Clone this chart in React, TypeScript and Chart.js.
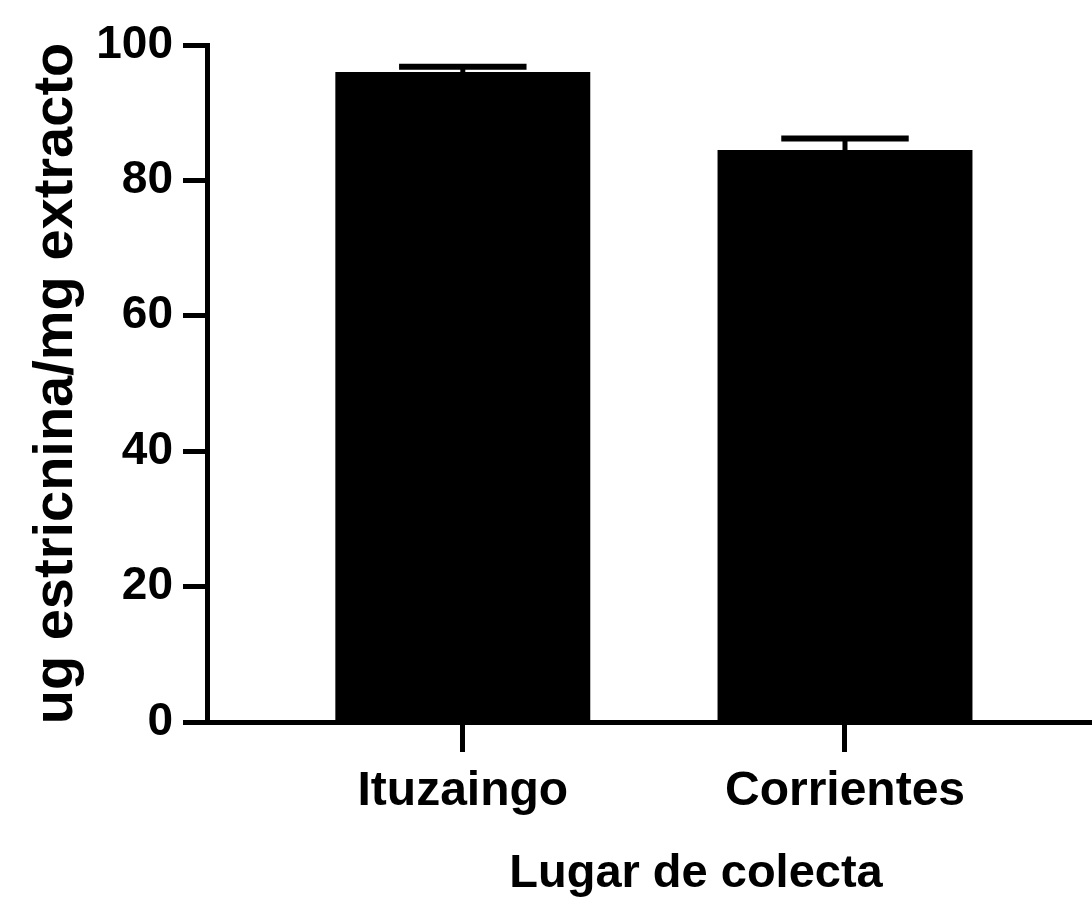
import React, { useEffect, useRef } from "react";
import { Chart, registerables } from "chart.js";

Chart.register(...registerables);

const categories = ["Ituzaingo", "Corrientes"];
const means = [96.0, 84.5];
const errors = [0.8, 1.7];
const yTickValues = [0, 20, 40, 60, 80, 100];
const xTitle = "Lugar de colecta";
const yTitle = "ug estricnina/mg extracto";

const FONT = "'Liberation Sans', Arial, Helvetica, sans-serif";

const errorBars = {
  id: "errorBars",
  afterDatasetsDraw(chart: any) {
    const { ctx } = chart;
    const y = chart.scales.y;
    const meta = chart.getDatasetMeta(0);
    ctx.save();
    ctx.strokeStyle = "#000";
    ctx.lineCap = "butt";
    meta.data.forEach((bar: any, i: number) => {
      const x = bar.x;
      const top = y.getPixelForValue(means[i] + errors[i]);
      const bottom = y.getPixelForValue(means[i] - errors[i]);
      const half = bar.width / 4;
      ctx.lineWidth = 5;
      ctx.beginPath();
      ctx.moveTo(x, bottom);
      ctx.lineTo(x, top);
      ctx.stroke();
      ctx.lineWidth = 6;
      ctx.beginPath();
      ctx.moveTo(x - half, top);
      ctx.lineTo(x + half, top);
      ctx.stroke();
    });
    ctx.restore();
  },
};

export default function App() {
  const ref = useRef<HTMLCanvasElement | null>(null);

  useEffect(() => {
    document.body.style.margin = "0";
    if (!ref.current) return;
    const chart = new Chart(ref.current, {
      type: "bar",
      data: {
        datasets: [
          {
            data: categories.map((c, i) => ({ x: i + 1, y: means[i] })),
            backgroundColor: "#000",
            borderWidth: 0,
            barPercentage: 0.667,
            categoryPercentage: 1,
          } as any,
        ],
      },
      options: {
        animation: false,
        responsive: false,
        maintainAspectRatio: false,
        layout: { padding: { top: 45, left: 0, right: 0, bottom: 0 } },
        plugins: { legend: { display: false }, tooltip: { enabled: false } },
        scales: {
          x: {
            type: "linear",
            offset: false,
            min: 0.3307,
            max: 2.8896,
            afterBuildTicks: (s: any) => {
              s.ticks = categories.map((_, i) => ({ value: i + 1 }));
            },
            afterFit: (s: any) => {
              s.height = 194;
            },
            ticks: {
              callback: (v: any) => categories[Number(v) - 1] ?? "",
              font: { family: FONT, size: 48, weight: "bold" },
              color: "#000",
              padding: 11,
              maxRotation: 0,
              autoSkip: false,
            },
            grid: { offset: false, drawOnChartArea: false, tickLength: 30, tickWidth: 5, tickColor: "#000" },
            border: { display: true, width: 5, color: "#000" },
            title: {
              display: true,
              text: xTitle,
              font: { family: FONT, size: 47, weight: "bold" },
              color: "#000",
              padding: { top: 0, bottom: 14 },
            },
          },
          y: {
            min: 0,
            max: 100,
            afterBuildTicks: (s: any) => {
              s.ticks = yTickValues.map((v) => ({ value: v }));
            },
            afterFit: (s: any) => {
              s.width = 207;
            },
            ticks: {
              font: { family: FONT, size: 46, weight: "bold" },
              color: "#000",
              padding: 10,
            },
            grid: { drawOnChartArea: false, tickLength: 24, tickWidth: 5, tickColor: "#000" },
            border: { display: true, width: 5, color: "#000" },
            title: {
              display: true,
              text: yTitle,
              font: { family: FONT, size: 56, weight: "bold" },
              color: "#000",
              padding: { top: 23, bottom: 0 },
            },
          },
        },
      },
      plugins: [errorBars],
    });
    return () => chart.destroy();
  }, []);

  return (
    <div style={{ width: 1092, height: 916, overflow: "hidden", background: "#fff" }}>
      <canvas ref={ref} width={1185} height={916} style={{ display: "block" }} />
    </div>
  );
}
